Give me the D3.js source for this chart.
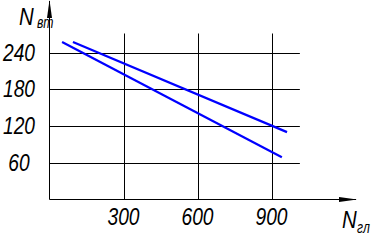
<!DOCTYPE html>
<html>
<head>
<meta charset="utf-8">
<script src="https://cdn.jsdelivr.net/npm/d3@7"></script>
<style>
  body { margin: 0; background: #fff; }
  svg text { font-family: "Liberation Sans", Arial, sans-serif; font-style: italic; fill: #000; }
</style>
</head>
<body>
<div id="chart"></div>
<script>
// tick values
const xTicks = [300, 600, 900];
const yTicks = [60, 120, 180, 240];

// two straight lines, N_вт vs N_гл
const upperLine = [
    { x: 95, y: 257 },
    { x: 963, y: 110 }
];
const lowerLine = [
    { x: 51, y: 257 },
    { x: 942, y: 69 }
];

const width = 387, height = 244;

const svg = d3.select("#chart")
    .append("svg")
    .attr("width", width)
    .attr("height", height);

const x = d3.scaleLinear().domain([0, 900]).range([49.5, 271.5]);
const y = d3.scaleLinear().domain([0, 240]).range([199.5, 52.5]);

const gridXMax = 1015, gridYMax = 271;

// grid
svg.append("g")
    .selectAll("line")
    .data(yTicks)
    .join("line")
    .attr("x1", x(0)).attr("x2", x(gridXMax))
    .attr("y1", d => Math.round(y(d)) + 0.5).attr("y2", d => Math.round(y(d)) + 0.5)
    .attr("stroke", "#000").attr("stroke-width", 1);

svg.append("g")
    .selectAll("line")
    .data(xTicks)
    .join("line")
    .attr("x1", d => Math.round(x(d)) + 0.5).attr("x2", d => Math.round(x(d)) + 0.5)
    .attr("y1", y(0)).attr("y2", y(gridYMax))
    .attr("stroke", "#000").attr("stroke-width", 1);

// axes with arrows
svg.append("line")
    .attr("x1", x(0)).attr("x2", x(0))
    .attr("y1", y(0)).attr("y2", 1)
    .attr("stroke", "#000").attr("stroke-width", 1);
svg.append("path")
    .attr("d", `M${x(0)},0 L${x(0) + 2.5},18 L${x(0) - 2.5},18 Z`)
    .attr("fill", "#000");

svg.append("line")
    .attr("x1", x(0)).attr("x2", 356)
    .attr("y1", y(0)).attr("y2", y(0))
    .attr("stroke", "#000").attr("stroke-width", 1);
svg.append("path")
    .attr("d", `M357,${y(0)} L339,${y(0) - 2.5} L339,${y(0) + 2.5} Z`)
    .attr("fill", "#000");

// tick labels
svg.append("g")
    .selectAll("text")
    .data(yTicks)
    .join("text")
    .attr("transform", d => `translate(19,${y(d) + 8}) scale(0.8,1)`)
    .attr("text-anchor", "middle")
    .attr("font-size", 24)
    .text(d => d);

svg.append("g")
    .selectAll("text")
    .data(xTicks)
    .join("text")
    .attr("transform", d => `translate(${x(d)},225) scale(0.8,1)`)
    .attr("text-anchor", "middle")
    .attr("font-size", 24)
    .text(d => d);

// axis titles (N + subscript)
svg.append("text")
    .attr("transform", "translate(19,25) scale(0.85,1)")
    .attr("font-size", 24)
    .text("N");
svg.append("text")
    .attr("transform", "translate(37,28) scale(0.72,1)")
    .attr("font-size", 17)
    .text("вт");

svg.append("text")
    .attr("transform", "translate(342,228) scale(0.85,1)")
    .attr("font-size", 24)
    .text("N");
svg.append("text")
    .attr("transform", "translate(357,233) scale(0.72,1)")
    .attr("font-size", 17)
    .text("гл");

// lines
const line = d3.line().x(d => x(d.x)).y(d => y(d.y));
[upperLine, lowerLine].forEach(data => {
    svg.append("path")
        .datum(data)
        .attr("fill", "none")
        .attr("stroke", "#0000ff")
        .attr("stroke-width", 2.2)
        .attr("d", line);
});
</script>
</body>
</html>
